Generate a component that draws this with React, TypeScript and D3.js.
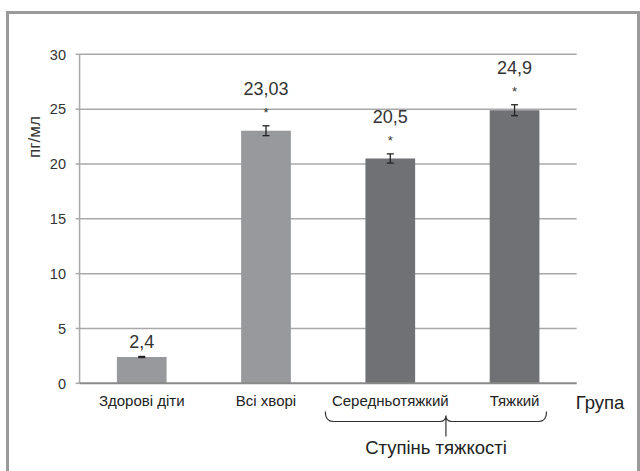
import React from "react";
import * as d3 from "d3";

const categories = ["Здорові діти", "Всі хворі", "Середньотяжкий", "Тяжкий"];
const values = [2.4, 23.03, 20.5, 24.9];
const errors = [0.05, 0.45, 0.42, 0.5];
const valueLabels = ["2,4", "23,03", "20,5", "24,9"];
const significant = [false, true, true, true];
const barShade = ["light", "light", "dark", "dark"];
const yTicks = [0, 5, 10, 15, 20, 25, 30];
const yTitle = "пг/мл";
const xTitle = "Група";
const groupTitle = "Ступінь тяжкості";
const groupMembers = ["Середньотяжкий", "Тяжкий"];

const W = 640;
const H = 471;
const left = 79.6;
const right = 576.7;
const top = 54.3;
const bottom = 383.3;
const FONT = "'Liberation Sans', Arial, sans-serif";
const colors: Record<string, string> = { light: "#98999c", dark: "#707174" };

export default function App() {
  const x = d3.scaleBand<string>().domain(categories).range([left, right]).padding(0);
  const y = d3.scaleLinear().domain([0, 30]).range([bottom, top]);
  const bw = x.bandwidth() * 0.4;

  const g0 = x(groupMembers[0])! + x.bandwidth() / 2 - 65;
  const g1 = x(groupMembers[1])! + x.bandwidth() / 2 + 32;
  const gm = (g0 + g1) / 2 + 10;
  const by0 = 411.5;
  const by1 = 421.5;
  const by2 = 436.5;
  const braceD = `M${g0},${by0} Q${g0},${by1} ${g0 + 8},${by1} L${gm - 6},${by1} Q${gm},${by1} ${gm},${by1 - 6} M${gm},${by1 - 6} Q${gm},${by1} ${gm + 6},${by1} L${g1 - 8},${by1} Q${g1},${by1} ${g1},${by0} M${gm},${by1 - 4} L${gm},${by2}`;

  return (
    <svg width={W} height={H} style={{ position: "absolute", left: 0, top: 0, background: "#fff" }} fontFamily={FONT}>
      <rect x={7.5} y={12.5} width={631} height={470} fill="#fff" stroke="#9b9b9b" strokeWidth={3} />
      {yTicks.map((t) => (
        <g key={t}>
          {t > 0 && <line x1={left} x2={right} y1={y(t)} y2={y(t)} stroke="#a9a9a9" strokeWidth={1.5} />}
          <line x1={left - 4} x2={left} y1={y(t)} y2={y(t)} stroke="#a9a9a9" strokeWidth={1.5} />
          <text x={66} y={y(t)} dy="0.36em" textAnchor="end" fontSize={14.5} fill="#333">
            {t}
          </text>
        </g>
      ))}
      <line x1={left} x2={left} y1={top} y2={bottom} stroke="#a9a9a9" strokeWidth={1.5} />
      {categories.map((c, i) => {
        const cx = x(c)! + x.bandwidth() / 2;
        const errTop = y(values[i] + errors[i]);
        const errBot = y(values[i] - errors[i]);
        return (
          <g key={c}>
            <rect x={cx - bw / 2} y={y(values[i])} width={bw} height={bottom - y(values[i])} fill={colors[barShade[i]]} />
            <line x1={cx} x2={cx} y1={errTop} y2={errBot} stroke="#222" strokeWidth={1.3} />
            <line x1={cx - 3.5} x2={cx + 3.5} y1={errTop} y2={errTop} stroke="#222" strokeWidth={1.3} />
            <line x1={cx - 3.5} x2={cx + 3.5} y1={errBot} y2={errBot} stroke="#222" strokeWidth={1.3} />
            {significant[i] && (
              <text x={cx} y={errTop - 18} dy="0.7em" textAnchor="middle" fontSize={13} fill="#333">
                *
              </text>
            )}
            <text x={cx} y={significant[i] ? errTop - 37 : errTop - 15} dy="0.36em" textAnchor="middle" fontSize={18} fill="#333">
              {valueLabels[i]}
            </text>
            <text x={cx} y={401} dy="0.36em" textAnchor="middle" fontSize={15} fill="#222">
              {c}
            </text>
          </g>
        );
      })}
      <line x1={left} x2={right} y1={bottom} y2={bottom} stroke="#8a8a8a" strokeWidth={2} />
      <text x={600} y={402} dy="0.36em" textAnchor="middle" fontSize={18.5} fill="#222">
        {xTitle}
      </text>
      <path d={braceD} fill="none" stroke="#333" strokeWidth={1.2} />
      <text x={436} y={447} dy="0.36em" textAnchor="middle" fontSize={18.5} fill="#222">
        {groupTitle}
      </text>
      <text transform={`translate(34,137) rotate(-90)`} dy="0.36em" textAnchor="middle" fontSize={17} fill="#333">
        {yTitle}
      </text>
    </svg>
  );
}
